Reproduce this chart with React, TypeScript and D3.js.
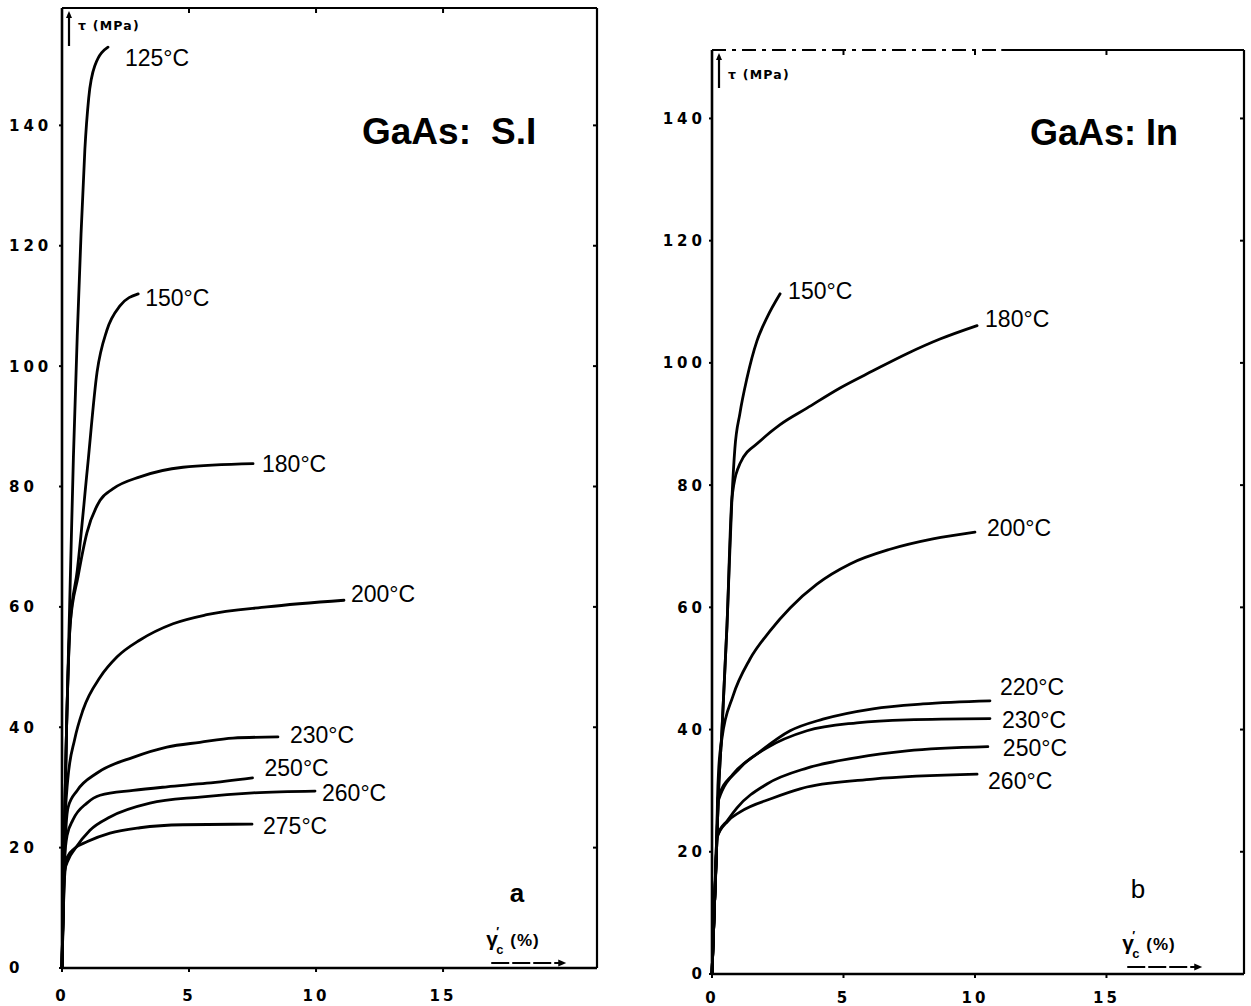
import React from "react";
import * as d3 from "d3";

type Pt = [number, number];

// Axis ticks (shear strain %, resolved shear stress MPa)
const strainTicks = [0, 5, 10, 15];
const stressTicks = [0, 20, 40, 60, 80, 100, 120, 140];

// GaAs: S.I  — stress/strain curves, [strain %, stress MPa]
const si125: Pt[] = [[0, 0], [0.08, 20], [0.18, 40], [0.3, 60], [0.45, 85], [0.6, 105], [0.75, 122], [0.9, 136], [1.05, 144.5], [1.3, 150], [1.81, 153]];
const si150: Pt[] = [[0, 0], [0.08, 20], [0.18, 40], [0.32, 57], [0.6, 66], [1.0, 83], [1.38, 99], [1.77, 106], [2.28, 110], [3.0, 112]];
const si180: Pt[] = [[0, 0], [0.08, 20], [0.18, 40], [0.32, 57], [0.63, 65], [0.98, 72.3], [1.5, 77.7], [2.0, 79.6], [3.07, 81.6], [4.76, 83.2], [7.52, 83.8]];
const si200: Pt[] = [[0, 0], [0.08, 20], [0.22, 31], [0.5, 38], [0.83, 42.9], [1.5, 48.3], [2.17, 51.7], [3.07, 54.5], [4.37, 57.2], [5.7, 58.7], [8.07, 60], [11.1, 61.1]];
const si230: Pt[] = [[0, 0], [0.1, 18], [0.24, 26.7], [0.6, 29.5], [1.38, 32.4], [2.8, 35], [4.13, 36.7], [5.43, 37.5], [6.73, 38.2], [8.5, 38.4]];
const si250: Pt[] = [[0, 0], [0.1, 18], [0.2, 22], [0.43, 24.6], [0.98, 27.4], [1.5, 28.7], [2.8, 29.5], [4.13, 30.1], [5.7, 30.7], [7.5, 31.6]];
const si260: Pt[] = [[0, 0], [0.1, 16], [0.25, 18], [0.51, 19.8], [1.1, 22.9], [1.89, 25.1], [3.46, 27.4], [5.43, 28.4], [7.52, 29.1], [9.96, 29.4]];
const si275: Pt[] = [[0, 0], [0.1, 15], [0.2, 18.4], [0.5, 19.9], [1.0, 21], [1.89, 22.4], [3.07, 23.3], [4.76, 23.8], [7.48, 23.9]];

// GaAs: In
const in150: Pt[] = [[0, 0], [0.1, 12], [0.17, 20], [0.24, 29], [0.38, 40], [0.57, 57], [0.76, 78], [0.87, 86], [1.06, 91.7], [1.33, 97.5], [1.71, 103.6], [2.09, 107.4], [2.59, 111.3]];
const in180: Pt[] = [[0, 0], [0.1, 12], [0.17, 20], [0.24, 29], [0.38, 40], [0.57, 57], [0.76, 77.9], [1.06, 83.5], [1.83, 87.2], [2.59, 89.9], [3.61, 92.6], [4.87, 95.9], [6.12, 98.7], [7.41, 101.5], [8.67, 103.9], [10.08, 106.1]];
const in200: Pt[] = [[0, 0], [0.1, 12], [0.17, 20], [0.21, 28.8], [0.25, 33.2], [0.38, 38.6], [0.8, 45.5], [1.44, 51.5], [2.2, 56.1], [2.97, 59.9], [3.99, 63.8], [5.25, 67.1], [6.77, 69.5], [8.4, 71.2], [10.0, 72.3]];
const in220: Pt[] = [[0, 0], [0.1, 12], [0.17, 20], [0.23, 28.8], [0.8, 32.7], [1.71, 36], [2.97, 39.8], [4.22, 41.7], [6.12, 43.4], [8.02, 44.2], [10.57, 44.7]];
const in230: Pt[] = [[0, 0], [0.1, 12], [0.17, 20], [0.25, 28.5], [1.06, 33.7], [2.09, 37], [3.61, 39.8], [5.51, 41.1], [7.41, 41.6], [10.57, 41.8]];
const in250: Pt[] = [[0, 0], [0.1, 12], [0.19, 22.5], [0.6, 25.2], [0.95, 27.2], [2.09, 31.1], [3.61, 33.7], [5.51, 35.4], [7.41, 36.5], [10.49, 37.2]];
const in260: Pt[] = [[0, 0], [0.1, 12], [0.19, 22.3], [0.6, 25], [1.06, 26.5], [2.32, 28.8], [3.35, 30.3], [3.61, 30.6], [6.12, 31.9], [10.08, 32.7]];

const siLabels = ["125°C", "150°C", "180°C", "200°C", "230°C", "250°C", "260°C", "275°C"];
const inLabels = ["150°C", "180°C", "200°C", "220°C", "230°C", "250°C", "260°C"];

const siSeries = [si125, si150, si180, si200, si230, si250, si260, si275];
const inSeries = [in150, in180, in200, in220, in230, in250, in260];

// label placement relative to each curve's end point (px)
const siLabelOffsets: Pt[] = [[17, 19], [7, 12], [9, 8], [7, 2], [12, 6], [12, -2], [7, 10], [11, 10]];
const inLabelOffsets: Pt[] = [[8, 5], [8, 1], [12, 4], [10, -6], [12, 9], [15, 9], [11, 15]];

interface PanelProps {
  x0: number; x1: number; yTop: number; yBottom: number;
  xMax: number; yMax: number;
  series: Pt[][]; labels: string[]; offsets: Pt[];
  title: string; titleSuffix: string; titleGap: number; titleSize: number; titleX: number; titleY: number;
  letter: string; letterX: number; letterY: number; letterWeight: number;
  yLabelAnchor: "start" | "end"; yLabelX: number; xLabelDy: number;
  dashedTopTo: number | null;
  strainLabelAt: number; strainLabelDy: number; tauDy: number;
}

const tickFont = "'DejaVu Sans', sans-serif";
const textFont = "'Liberation Sans', Arial, sans-serif";

function Panel(p: PanelProps) {
  const x = d3.scaleLinear().domain([0, p.xMax]).range([p.x0, p.x1]);
  const y = d3.scaleLinear().domain([0, p.yMax]).range([p.yBottom, p.yTop]);
  const line = d3.line<Pt>().x(d => x(d[0])).y(d => y(d[1])).curve(d3.curveMonotoneX);
  const sw = 2.6;
  const lx = x(p.strainLabelAt);
  const ly = p.yBottom - p.strainLabelDy;
  return (
    <g>
      {/* frame */}
      <line x1={p.x0} y1={p.yTop} x2={p.x0} y2={p.yBottom} stroke="#000" strokeWidth={sw} />
      <line x1={p.x0} y1={p.yBottom} x2={p.x1} y2={p.yBottom} stroke="#000" strokeWidth={sw} />
      <line x1={p.x1} y1={p.yTop} x2={p.x1} y2={p.yBottom} stroke="#000" strokeWidth={2.2} />
      {p.dashedTopTo === null ? (
        <line x1={p.x0} y1={p.yTop} x2={p.x1} y2={p.yTop} stroke="#000" strokeWidth={2.2} />
      ) : (
        <g>
          <line x1={p.x0} y1={p.yTop} x2={x(p.dashedTopTo)} y2={p.yTop} stroke="#000" strokeWidth={2.2}
            strokeDasharray="14 6 4 6" />
          <line x1={x(p.dashedTopTo)} y1={p.yTop} x2={p.x1} y2={p.yTop} stroke="#000" strokeWidth={2.2} />
        </g>
      )}

      {/* y ticks */}
      {stressTicks.map(t => (
        <g key={"yt" + t}>
          <line x1={p.x0 - 3} x2={p.x0} y1={y(t)} y2={y(t)} stroke="#000" strokeWidth={2} />
          {t > 0 && <line x1={p.x1 - 4} x2={p.x1} y1={y(t)} y2={y(t)} stroke="#000" strokeWidth={2} />}
          <text x={p.yLabelX} y={y(t)} dy="0.36em" textAnchor={p.yLabelAnchor}
            fontFamily={tickFont} fontWeight="bold" fontSize={15} letterSpacing={4}>{t}</text>
        </g>
      ))}

      {/* x ticks */}
      {strainTicks.map(t => (
        <g key={"xt" + t}>
          <line x1={x(t)} x2={x(t)} y1={p.yBottom} y2={p.yBottom + 4} stroke="#000" strokeWidth={2} />
          {t > 0 && <line x1={x(t)} x2={x(t)} y1={p.yTop} y2={p.yTop + 5} stroke="#000" strokeWidth={2} />}
          <text x={x(t)} y={p.yBottom + p.xLabelDy} textAnchor="middle"
            fontFamily={tickFont} fontWeight="bold" fontSize={15} letterSpacing={3}>{t}</text>
        </g>
      ))}

      {/* curves */}
      {p.series.map((s, i) => (
        <path key={"c" + i} d={line(s) || ""} fill="none" stroke="#000" strokeWidth={2.8}
          strokeLinecap="round" strokeLinejoin="round" />
      ))}
      {p.series.map((s, i) => {
        const e = s[s.length - 1];
        return (
          <text key={"l" + i} x={x(e[0]) + p.offsets[i][0]} y={y(e[1]) + p.offsets[i][1]}
            fontFamily={textFont} fontSize={23}>{p.labels[i]}</text>
        );
      })}

      {/* stress axis label */}
      <line x1={p.x0 + 7} x2={p.x0 + 7} y1={p.yTop + 38} y2={p.yTop + 6} stroke="#000" strokeWidth={2.2} />
      <path d={`M${p.x0 + 7},${p.yTop + 3} l-3,7 l6,0 z`} fill="#000" />
      <text x={p.x0 + 16} y={p.yTop + p.tauDy} fontFamily={tickFont} fontWeight="bold" fontSize={12.5} letterSpacing={1.2}>τ (MPa)</text>

      {/* strain axis label */}
      <text x={lx} y={ly} fontFamily={textFont} fontWeight="bold" fontSize={21}>γ</text>
      <text x={lx + 10} y={ly - 10} fontFamily={textFont} fontWeight="bold" fontSize={12}>′</text>
      <text x={lx + 10} y={ly + 8} fontFamily={textFont} fontWeight="bold" fontSize={13}>c</text>
      <text x={lx + 24} y={ly} fontFamily={textFont} fontWeight="bold" fontSize={17} letterSpacing={1}>(%)</text>
      <line x1={lx + 5} x2={lx + 74} y1={ly + 17} y2={ly + 17} stroke="#000" strokeWidth={2}
        strokeDasharray="18 3" />
      <path d={`M${lx + 80},${ly + 17} l-8,-3.5 l0,7 z`} fill="#000" />

      {/* panel title and letter */}
      <text x={p.titleX} y={p.titleY} fontFamily={textFont} fontWeight="bold" fontSize={p.titleSize}>
        {p.title}<tspan dx={p.titleGap}>{p.titleSuffix}</tspan>
      </text>
      <text x={p.letterX} y={p.letterY} textAnchor="middle" fontFamily={textFont}
        fontWeight={p.letterWeight} fontSize={26}>{p.letter}</text>
    </g>
  );
}

export default function App() {
  return (
    <svg width={1251} height={1006} viewBox="0 0 1251 1006"
      style={{ position: "absolute", left: 0, top: 0, background: "#fff" }}>
      <rect width={1251} height={1006} fill="#fff" />
      <Panel x0={62} x1={597} yTop={8} yBottom={968} xMax={21.06} yMax={159.5}
        series={siSeries} labels={siLabels} offsets={siLabelOffsets}
        title={"GaAs:"} titleSuffix={"S.I"} titleGap={20} titleSize={37} titleX={362} titleY={144}
        letter="a" letterX={517} letterY={902} letterWeight={700}
        yLabelAnchor="start" yLabelX={9} xLabelDy={33} dashedTopTo={null}
        strainLabelAt={16.7} strainLabelDy={22} tauDy={22} />
      <Panel x0={712} x1={1244} yTop={50} yBottom={974} xMax={20.23} yMax={151.2}
        series={inSeries} labels={inLabels} offsets={inLabelOffsets}
        title={"GaAs:"} titleSuffix={"In"} titleGap={10} titleSize={36} titleX={1030} titleY={145}
        letter="b" letterX={1138} letterY={898} letterWeight={400}
        yLabelAnchor="end" yLabelX={706} xLabelDy={29} dashedTopTo={11}
        strainLabelAt={15.6} strainLabelDy={24} tauDy={29} />
    </svg>
  );
}
